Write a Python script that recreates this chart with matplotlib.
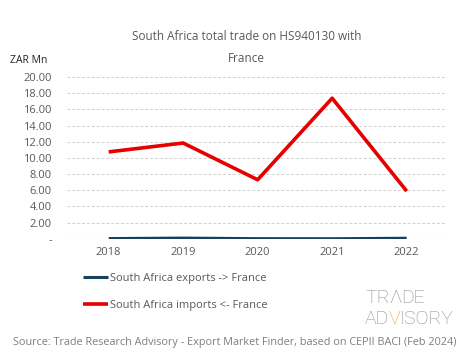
import matplotlib.pyplot as plt

# --- Data ---
YEARS = ["2018", "2019", "2020", "2021", "2022"]
EXPORTS = [0.02, 0.08, 0.01, 0.0, 0.06]      # South Africa exports -> France (ZAR Mn)
IMPORTS = [10.75, 11.85, 7.3, 17.4, 5.9]      # South Africa imports <- France (ZAR Mn)
Y_TICKS = [0, 2, 4, 6, 8, 10, 12, 14, 16, 18, 20]

TXT = "#595959"
plt.rcParams['font.family'] = ['Open Sans', 'DejaVu Sans']

fig = plt.figure(figsize=(4.65, 3.59), dpi=100)
ax = fig.add_axes([0.144, 0.335, 0.817, 0.45])

x = range(len(YEARS))
ax.plot(x, EXPORTS, color="#17405a", linewidth=2.2, solid_capstyle='butt',
        label="South Africa exports -> France")
ax.plot(x, IMPORTS, color="#e60000", linewidth=2.6, solid_capstyle='butt',
        label="South Africa imports <- France")

ax.set_xlim(-0.56, len(YEARS) - 0.46)
ax.set_ylim(0, 20)
ax.set_yticks(Y_TICKS)
ax.set_yticklabels(["-"] + [f"{v:.2f}" for v in Y_TICKS[1:]])
ax.set_xticks(list(x))
ax.set_xticklabels(YEARS)
ax.tick_params(axis='both', length=0, labelsize=8, colors=TXT)
ax.tick_params(axis='y', pad=11)
ax.tick_params(axis='x', pad=6)

for v in Y_TICKS[1:]:
    ax.axhline(v, color="#d0d0d0", linewidth=0.7, linestyle=(0, (3, 2)), zorder=0)
ax.axhline(0, color="#d0d0d0", linewidth=0.8, zorder=0)
for s in ax.spines.values():
    s.set_visible(False)

fig.text(0.53, 0.897, "South Africa total trade on HS940130 with", ha='center',
         va='center', fontsize=8.5, color=TXT)
fig.text(0.53, 0.836, "France", ha='center', va='center', fontsize=8.5, color=TXT)
fig.text(0.022, 0.832, "ZAR Mn", ha='left', va='center', fontsize=7.5, color="#222222")

ax.legend(loc='upper left', bbox_to_anchor=(0.015, -0.15), frameon=False,
          fontsize=8, labelcolor=TXT, handlelength=2.3, handletextpad=0.2,
          labelspacing=1.4)

# logo, pieces laid out by measured width
r = fig.canvas.get_renderer()
logo_font = dict(fontsize=14, fontweight='light', family=['Roboto', 'DejaVu Sans'])

def put_row(parts, x0, y0):
    xx = x0
    for s, c in parts:
        t = fig.text(xx, y0, s, ha='left', va='bottom', color=c, **logo_font)
        w = t.get_window_extent(renderer=r).width / fig.bbox.width
        xx += w * 0.97

put_row([("TR", "#8c8c8c"), ("\u039b", "#8c8c8c"), ("DE", "#8c8c8c")], 0.785, 0.145)
put_row([("AD", "#8c8c8c"), ("V", "#f0a020"), ("ISORY", "#8c8c8c")], 0.785, 0.085)

fig.text(0.505, 0.045, "Source: Trade Research Advisory - Export Market Finder, based on CEPII BACI (Feb 2024)",
         ha='center', va='center', fontsize=7.8, color="#7f7f7f")

fig.savefig("out.png", dpi=100, facecolor='white')
